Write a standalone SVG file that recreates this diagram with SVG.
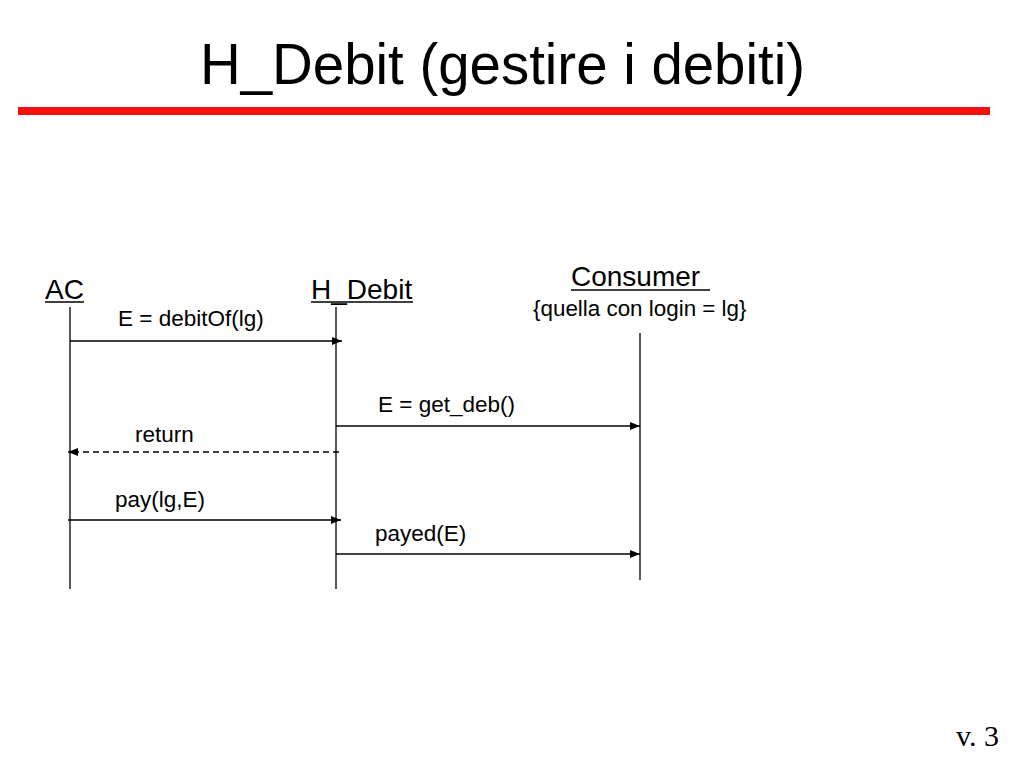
<svg xmlns="http://www.w3.org/2000/svg" width="1024" height="768" viewBox="0 0 1024 768">
<defs>
<marker id="arr" viewBox="0 0 10 10" refX="10" refY="5" markerWidth="10" markerHeight="10" markerUnits="userSpaceOnUse" orient="auto">
<path d="M0,1 L10,5 L0,9 z" fill="#000"/>
</marker>
<style>
.t{font-family:"Liberation Sans",Arial,sans-serif;fill:#000}
.lbl{font-size:22.5px}
.hd{font-size:28px}
.life{stroke:#000;stroke-width:1.3;fill:none}
.msg{stroke:#000;stroke-width:1.3;fill:none;marker-end:url(#arr)}
.dash{stroke-dasharray:6,4}
.ul{stroke:#000;stroke-width:1.5}
</style>
</defs>
<rect width="1024" height="768" fill="#fff"/>
<text class="t" x="200" y="84" font-size="58" textLength="605" lengthAdjust="spacingAndGlyphs">H_Debit (gestire i debiti)</text>
<rect x="18" y="107" width="972" height="8" fill="#f90f0f"/>
<g id="AC">
<text class="t hd" x="45" y="299">AC</text>
<line class="ul" x1="45" y1="302" x2="84" y2="302"/>
<line class="life" x1="70" y1="307" x2="70" y2="589"/>
</g>
<g id="H_Debit">
<text class="t hd" x="311" y="299">H_Debit</text>
<line class="ul" x1="311" y1="302" x2="413" y2="302"/>
<line class="life" x1="336" y1="307" x2="336" y2="589"/>
</g>
<g id="Consumer">
<text class="t hd" x="571" y="286">Consumer</text>
<line class="ul" x1="571" y1="290" x2="710" y2="290"/>
<text class="t" x="533" y="316" font-size="22.4">{quella con login = lg}</text>
<line class="life" x1="640" y1="333" x2="640" y2="580"/>
</g>
<g id="connectors">
<line class="msg" x1="70" y1="341" x2="342" y2="341"/>
<text class="t lbl" x="118" y="326">E = debitOf(lg)</text>
<line class="msg" x1="336" y1="426" x2="640" y2="426"/>
<text class="t lbl" x="378" y="412">E = get_deb()</text>
<line class="msg dash" x1="339" y1="452" x2="68" y2="452"/>
<text class="t lbl" x="135" y="442">return</text>
<line class="msg" x1="68" y1="520" x2="341" y2="520"/>
<text class="t lbl" x="115" y="507">pay(lg,E)</text>
<line class="msg" x1="336" y1="554" x2="640" y2="554"/>
<text class="t lbl" x="375" y="541">payed(E)</text>
</g>
<text x="956" y="746" font-size="30" font-family="'Liberation Serif','Times New Roman',serif">v. 3</text>
</svg>
